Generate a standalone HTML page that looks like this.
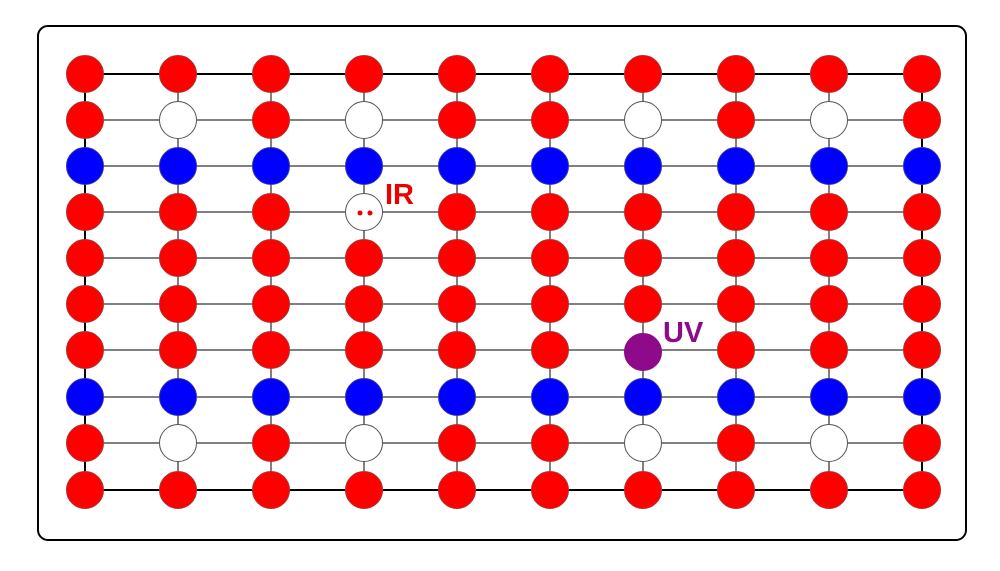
<!DOCTYPE html>
<html><head><style>
body{margin:0;background:#fff}
.r{fill:#f00;stroke:#a33}
.b{fill:#00f;stroke:#33a}
.w{fill:#fff;stroke:#555}
.p{fill:#8e0a8a;stroke:#8e0a8a}
circle{stroke-width:1}
</style></head><body>
<svg width="1000" height="566" xmlns="http://www.w3.org/2000/svg">
<rect x="38" y="26" width="928" height="514" rx="10" fill="#fff" stroke="#000" stroke-width="2"/>
<g stroke="#000" stroke-width="1">
<line x1="85" y1="74" x2="922" y2="74" stroke-width="2"/>
<line x1="85" y1="120" x2="922" y2="120"/>
<line x1="85" y1="166" x2="922" y2="166"/>
<line x1="85" y1="212" x2="922" y2="212"/>
<line x1="85" y1="258" x2="922" y2="258"/>
<line x1="85" y1="304" x2="922" y2="304"/>
<line x1="85" y1="350" x2="922" y2="350"/>
<line x1="85" y1="397" x2="922" y2="397"/>
<line x1="85" y1="443" x2="922" y2="443"/>
<line x1="85" y1="490" x2="922" y2="490" stroke-width="2"/>
<line x1="85" y1="74" x2="85" y2="490" stroke-width="2"/>
<line x1="178" y1="74" x2="178" y2="490"/>
<line x1="271" y1="74" x2="271" y2="490"/>
<line x1="364" y1="74" x2="364" y2="490"/>
<line x1="457" y1="74" x2="457" y2="490"/>
<line x1="550" y1="74" x2="550" y2="490"/>
<line x1="643" y1="74" x2="643" y2="490"/>
<line x1="736" y1="74" x2="736" y2="490"/>
<line x1="829" y1="74" x2="829" y2="490"/>
<line x1="922" y1="74" x2="922" y2="490" stroke-width="2"/>
</g>
<g transform="translate(0,74)">
<circle class="r" cx="85" cy="0" r="18.5"/><circle class="r" cx="178" cy="0" r="18.5"/><circle class="r" cx="271" cy="0" r="18.5"/><circle class="r" cx="364" cy="0" r="18.5"/><circle class="r" cx="457" cy="0" r="18.5"/><circle class="r" cx="550" cy="0" r="18.5"/><circle class="r" cx="643" cy="0" r="18.5"/><circle class="r" cx="736" cy="0" r="18.5"/><circle class="r" cx="829" cy="0" r="18.5"/><circle class="r" cx="922" cy="0" r="18.5"/>
</g>
<g transform="translate(0,120)">
<circle class="r" cx="85" cy="0" r="18.5"/><circle class="w" cx="178" cy="0" r="18.5"/><circle class="r" cx="271" cy="0" r="18.5"/><circle class="w" cx="364" cy="0" r="18.5"/><circle class="r" cx="457" cy="0" r="18.5"/><circle class="r" cx="550" cy="0" r="18.5"/><circle class="w" cx="643" cy="0" r="18.5"/><circle class="r" cx="736" cy="0" r="18.5"/><circle class="w" cx="829" cy="0" r="18.5"/><circle class="r" cx="922" cy="0" r="18.5"/>
</g>
<g transform="translate(0,166)">
<circle class="b" cx="85" cy="0" r="18.5"/><circle class="b" cx="178" cy="0" r="18.5"/><circle class="b" cx="271" cy="0" r="18.5"/><circle class="b" cx="364" cy="0" r="18.5"/><circle class="b" cx="457" cy="0" r="18.5"/><circle class="b" cx="550" cy="0" r="18.5"/><circle class="b" cx="643" cy="0" r="18.5"/><circle class="b" cx="736" cy="0" r="18.5"/><circle class="b" cx="829" cy="0" r="18.5"/><circle class="b" cx="922" cy="0" r="18.5"/>
</g>
<g transform="translate(0,212)">
<circle class="r" cx="85" cy="0" r="18.5"/><circle class="r" cx="178" cy="0" r="18.5"/><circle class="r" cx="271" cy="0" r="18.5"/><circle class="w" cx="364" cy="0" r="18.5"/><circle class="r" cx="457" cy="0" r="18.5"/><circle class="r" cx="550" cy="0" r="18.5"/><circle class="r" cx="643" cy="0" r="18.5"/><circle class="r" cx="736" cy="0" r="18.5"/><circle class="r" cx="829" cy="0" r="18.5"/><circle class="r" cx="922" cy="0" r="18.5"/>
<circle cx="360" cy="1" r="2.5" fill="#e00" stroke="none"/><circle cx="370" cy="1" r="2.5" fill="#e00" stroke="none"/>
</g>
<g transform="translate(0,258)">
<circle class="r" cx="85" cy="0" r="18.5"/><circle class="r" cx="178" cy="0" r="18.5"/><circle class="r" cx="271" cy="0" r="18.5"/><circle class="r" cx="364" cy="0" r="18.5"/><circle class="r" cx="457" cy="0" r="18.5"/><circle class="r" cx="550" cy="0" r="18.5"/><circle class="r" cx="643" cy="0" r="18.5"/><circle class="r" cx="736" cy="0" r="18.5"/><circle class="r" cx="829" cy="0" r="18.5"/><circle class="r" cx="922" cy="0" r="18.5"/>
</g>
<g transform="translate(0,304)">
<circle class="r" cx="85" cy="0" r="18.5"/><circle class="r" cx="178" cy="0" r="18.5"/><circle class="r" cx="271" cy="0" r="18.5"/><circle class="r" cx="364" cy="0" r="18.5"/><circle class="r" cx="457" cy="0" r="18.5"/><circle class="r" cx="550" cy="0" r="18.5"/><circle class="r" cx="643" cy="0" r="18.5"/><circle class="r" cx="736" cy="0" r="18.5"/><circle class="r" cx="829" cy="0" r="18.5"/><circle class="r" cx="922" cy="0" r="18.5"/>
</g>
<g transform="translate(0,350)">
<circle class="r" cx="85" cy="0" r="18.5"/><circle class="r" cx="178" cy="0" r="18.5"/><circle class="r" cx="271" cy="0" r="18.5"/><circle class="r" cx="364" cy="0" r="18.5"/><circle class="r" cx="457" cy="0" r="18.5"/><circle class="r" cx="550" cy="0" r="18.5"/><circle class="p" cx="643" cy="2" r="18.5"/><circle class="r" cx="736" cy="0" r="18.5"/><circle class="r" cx="829" cy="0" r="18.5"/><circle class="r" cx="922" cy="0" r="18.5"/>
</g>
<g transform="translate(0,397)">
<circle class="b" cx="85" cy="0" r="18.5"/><circle class="b" cx="178" cy="0" r="18.5"/><circle class="b" cx="271" cy="0" r="18.5"/><circle class="b" cx="364" cy="0" r="18.5"/><circle class="b" cx="457" cy="0" r="18.5"/><circle class="b" cx="550" cy="0" r="18.5"/><circle class="b" cx="643" cy="0" r="18.5"/><circle class="b" cx="736" cy="0" r="18.5"/><circle class="b" cx="829" cy="0" r="18.5"/><circle class="b" cx="922" cy="0" r="18.5"/>
</g>
<g transform="translate(0,443)">
<circle class="r" cx="85" cy="0" r="18.5"/><circle class="w" cx="178" cy="0" r="18.5"/><circle class="r" cx="271" cy="0" r="18.5"/><circle class="w" cx="364" cy="0" r="18.5"/><circle class="r" cx="457" cy="0" r="18.5"/><circle class="r" cx="550" cy="0" r="18.5"/><circle class="w" cx="643" cy="0" r="18.5"/><circle class="r" cx="736" cy="0" r="18.5"/><circle class="w" cx="829" cy="0" r="18.5"/><circle class="r" cx="922" cy="0" r="18.5"/>
</g>
<g transform="translate(0,490)">
<circle class="r" cx="85" cy="0" r="18.5"/><circle class="r" cx="178" cy="0" r="18.5"/><circle class="r" cx="271" cy="0" r="18.5"/><circle class="r" cx="364" cy="0" r="18.5"/><circle class="r" cx="457" cy="0" r="18.5"/><circle class="r" cx="550" cy="0" r="18.5"/><circle class="r" cx="643" cy="0" r="18.5"/><circle class="r" cx="736" cy="0" r="18.5"/><circle class="r" cx="829" cy="0" r="18.5"/><circle class="r" cx="922" cy="0" r="18.5"/>
</g>
<text x="385" y="204" font-family="Liberation Sans, sans-serif" font-weight="bold" font-size="29" fill="#e00">IR</text>
<text x="663" y="342" font-family="Liberation Sans, sans-serif" font-weight="bold" font-size="29" fill="#8e0a8a">UV</text>
</svg>
</body></html>
